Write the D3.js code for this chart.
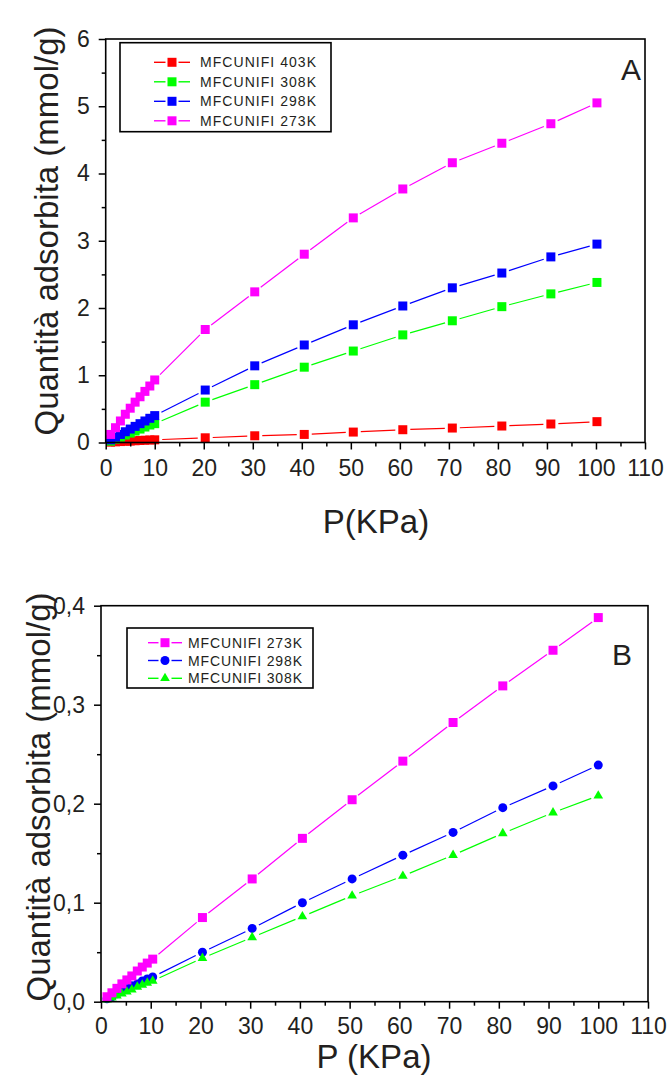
<!DOCTYPE html>
<html><head><meta charset="utf-8">
<script src="https://cdn.jsdelivr.net/npm/d3@7"></script>
<style>
body{margin:0;background:#fff}
svg{display:block}
text{font-family:"Liberation Sans",Arial,sans-serif;fill:#231f20}
</style>
</head><body><script>
// ---------- DATA ----------
const xTicks = [0,10,20,30,40,50,60,70,80,90,100,110];
const xTickLabels = ["0","10","20","30","40","50","60","70","80","90","100","110"];
const xMinor = [5,15,25,35,45,55,65,75,85,95,105];

// Panel A
const yTicksA = [0,1,2,3,4,5,6];
const yTickLabelsA = ["0","1","2","3","4","5","6"];
const yMinorA = [0.5,1.5,2.5,3.5,4.5,5.5];
const pressureA = [1,2,3,4,5,6,7,8,9,10,20.3,30.4,40.5,50.5,60.6,70.7,80.8,90.8,100.2];
const red403A   = [0.005,0.01,0.014,0.018,0.022,0.026,0.03,0.034,0.037,0.04,0.07,0.10,0.12,0.155,0.19,0.215,0.245,0.275,0.31];
const green308A = [0.02,0.05,0.08,0.11,0.14,0.17,0.20,0.23,0.26,0.28,0.60,0.86,1.12,1.36,1.60,1.81,2.02,2.21,2.38];
const blue298A  = [0.04,0.08,0.12,0.16,0.20,0.24,0.28,0.32,0.36,0.40,0.78,1.14,1.45,1.75,2.03,2.30,2.52,2.76,2.95];
const mag273A   = [0.12,0.22,0.32,0.42,0.51,0.60,0.68,0.76,0.84,0.93,1.68,2.24,2.80,3.34,3.77,4.16,4.45,4.74,5.05];
const legendA = ["MFCUNIFI 403K","MFCUNIFI 308K","MFCUNIFI 298K","MFCUNIFI 273K"];

// Panel B
const yTicksB = [0,0.1,0.2,0.3,0.4];
const yTickLabelsB = ["0,0","0,1","0,2","0,3","0,4"];
const yMinorB = [0.05,0.15,0.25,0.35];
const pressureB = [1.2,2.2,3.2,4.2,5.2,6.2,7.3,8.3,9.3,10.4,20.4,30.4,40.5,50.5,60.7,70.8,80.8,90.9,100];
const mag273B   = [0.005,0.009,0.0135,0.018,0.022,0.026,0.031,0.035,0.039,0.043,0.085,0.124,0.165,0.204,0.243,0.282,0.319,0.355,0.388];
const blue298B  = [0.003,0.005,0.008,0.011,0.013,0.016,0.018,0.021,0.023,0.025,0.050,0.074,0.100,0.124,0.148,0.171,0.196,0.218,0.239];
const green308B = [0.002,0.004,0.006,0.008,0.010,0.012,0.015,0.017,0.019,0.021,0.044,0.065,0.086,0.107,0.127,0.148,0.170,0.191,0.208];
const legendB = ["MFCUNIFI 273K","MFCUNIFI 298K","MFCUNIFI 308K"];

const yTitle = "Quantità adsorbita (mmol/g)";

// ---------- DRAW ----------
const svg = d3.select("body").append("svg").attr("width",667).attr("height",1079);

function shapeGen(shape, size){
  if (shape === "circle") return d3.symbol(d3.symbolCircle, Math.PI*(size/2)*(size/2));
  if (shape === "triangle") return d3.symbol(d3.symbolTriangle, size*size*0.5);
  return d3.symbol(d3.symbolSquare, size*size);
}

function drawSeries(g, x, y, xs, ys, color, shape, size){
  const pts = xs.map((p,i)=>[x(p), y(ys[i])]);
  const gap = size/2 + 3;
  for (let i=0;i<pts.length-1;i++){
    const [ax,ay]=pts[i], [bx,by]=pts[i+1];
    const dx=bx-ax, dy=by-ay, L=Math.hypot(dx,dy);
    if (L > 2*gap+2){
      const ux=dx/L, uy=dy/L;
      g.append("line").attr("x1",ax+ux*gap).attr("y1",ay+uy*gap)
        .attr("x2",bx-ux*gap).attr("y2",by-uy*gap)
        .attr("stroke",color).attr("stroke-width",1.2);
    }
  }
  const sym = shapeGen(shape,size);
  g.selectAll(null).data(pts).enter().append("path")
    .attr("d",sym).attr("transform",d=>`translate(${d[0]},${d[1]})`)
    .attr("fill",color);
}

function panel(o){
  const x = d3.scaleLinear().domain([0,110]).range([o.x0,o.x1]);
  const y = d3.scaleLinear().domain([0,o.ymax]).range([o.y0,o.y1]);
  const g = svg.append("g");

  const dg = g.append("g");
  o.series.forEach(s=>drawSeries(dg,x,y,o.px,s.vals,s.color,s.shape,o.msize));

  g.append("rect").attr("x",o.x0).attr("y",o.y1).attr("width",o.x1-o.x0).attr("height",o.y0-o.y1)
    .attr("fill","none").attr("stroke","#000").attr("stroke-width",1.6);

  const xa = g.append("g").attr("transform",`translate(0,${o.y0})`)
    .call(d3.axisBottom(x).tickValues(xTicks).tickFormat((d,i)=>xTickLabels[i]).tickSize(7).tickPadding(o.xpad));
  const xm = g.append("g").attr("transform",`translate(0,${o.y0})`)
    .call(d3.axisBottom(x).tickValues(xMinor).tickFormat("").tickSize(4));
  const ya = g.append("g").attr("transform",`translate(${o.x0},0)`)
    .call(d3.axisLeft(y).tickValues(o.yTicks).tickFormat((d,i)=>o.yLabels[i]).tickSize(7).tickPadding(9));
  const ym = g.append("g").attr("transform",`translate(${o.x0},0)`)
    .call(d3.axisLeft(y).tickValues(o.yMinor).tickFormat("").tickSize(4));
  [xa,xm,ya,ym].forEach(a=>{
    a.select(".domain").remove();
    a.selectAll("line").attr("stroke","#000").attr("stroke-width",1.5);
    a.selectAll("text").attr("font-size",23).attr("font-family","Liberation Sans, Arial, sans-serif").attr("fill","#231f20");
  });

  g.append("text").attr("x",o.xtx).attr("y",o.xty).attr("text-anchor","middle")
    .attr("font-size",33).text(o.xTitle);
  g.append("text").attr("transform",`translate(${o.ytx},${o.yty}) rotate(-90)`)
    .attr("text-anchor","middle").attr("dy","0.26em").attr("font-size",33).text(yTitle);

  g.append("text").attr("x",o.lx).attr("y",o.ly).attr("text-anchor","middle")
    .attr("font-size",30).text(o.letter);

  const L = o.legend;
  g.append("rect").attr("x",L.x).attr("y",L.y).attr("width",L.w).attr("height",L.h)
    .attr("fill","#fff").attr("stroke","#000").attr("stroke-width",1.6);
  L.items.forEach((it,i)=>{
    const ry = L.row0 + i*L.dy;
    const s = it.series;
    g.append("line").attr("x1",L.l0).attr("x2",L.mx - o.msize/2 - 2).attr("y1",ry).attr("y2",ry)
      .attr("stroke",s.color).attr("stroke-width",1.4);
    g.append("line").attr("x1",L.mx + o.msize/2 + 2).attr("x2",L.l1).attr("y1",ry).attr("y2",ry)
      .attr("stroke",s.color).attr("stroke-width",1.4);
    g.append("path").attr("d",shapeGen(s.shape,o.msize)).attr("transform",`translate(${L.mx},${ry})`)
      .attr("fill",s.color);
    g.append("text").attr("x",L.tx).attr("y",ry).attr("dy","0.36em").attr("font-size",14)
      .attr("textLength",L.tw).attr("lengthAdjust","spacing").text(it.label);
  });
}

const sA = {
  red:{vals:red403A,color:"#ff0000",shape:"square"},
  green:{vals:green308A,color:"#00ff00",shape:"square"},
  blue:{vals:blue298A,color:"#0000ff",shape:"square"},
  mag:{vals:mag273A,color:"#ff00ff",shape:"square"}
};
panel({
  x0:105.7,x1:645,y0:442.5,y1:39,ymax:6,
  px:pressureA,
  series:[sA.red,sA.green,sA.blue,sA.mag],
  msize:9,
  yTicks:yTicksA,yLabels:yTickLabelsA,yMinor:yMinorA,xpad:10,
  xTitle:"P(KPa)",xtx:376,xty:533,
  ytx:49,yty:231,
  letter:"A",lx:631,ly:80,
  legend:{x:120,y:42.7,w:211,h:89,row0:62.3,dy:19.5,l0:154,l1:190,mx:172,tx:200,tw:116,
    items:[{label:legendA[0],series:sA.red},{label:legendA[1],series:sA.green},{label:legendA[2],series:sA.blue},{label:legendA[3],series:sA.mag}]}
});

const sB = {
  mag:{vals:mag273B,color:"#ff00ff",shape:"square"},
  blue:{vals:blue298B,color:"#0000ff",shape:"circle"},
  green:{vals:green308B,color:"#00ff00",shape:"triangle"}
};
panel({
  x0:101,x1:648,y0:1001.7,y1:605.7,ymax:0.4,
  px:pressureB,
  series:[sB.blue,sB.green,sB.mag],
  msize:9,
  yTicks:yTicksB,yLabels:yTickLabelsB,yMinor:yMinorB,xpad:9,
  xTitle:"P (KPa)",xtx:374,xty:1068,
  ytx:41,yty:797,
  letter:"B",lx:622,ly:665,
  legend:{x:127,y:628,w:186,h:60,row0:642.7,dy:17.8,l0:148,l1:182,mx:165,tx:188,tw:114,
    items:[{label:legendB[0],series:sB.mag},{label:legendB[1],series:sB.blue},{label:legendB[2],series:sB.green}]}
});
</script></body></html>
